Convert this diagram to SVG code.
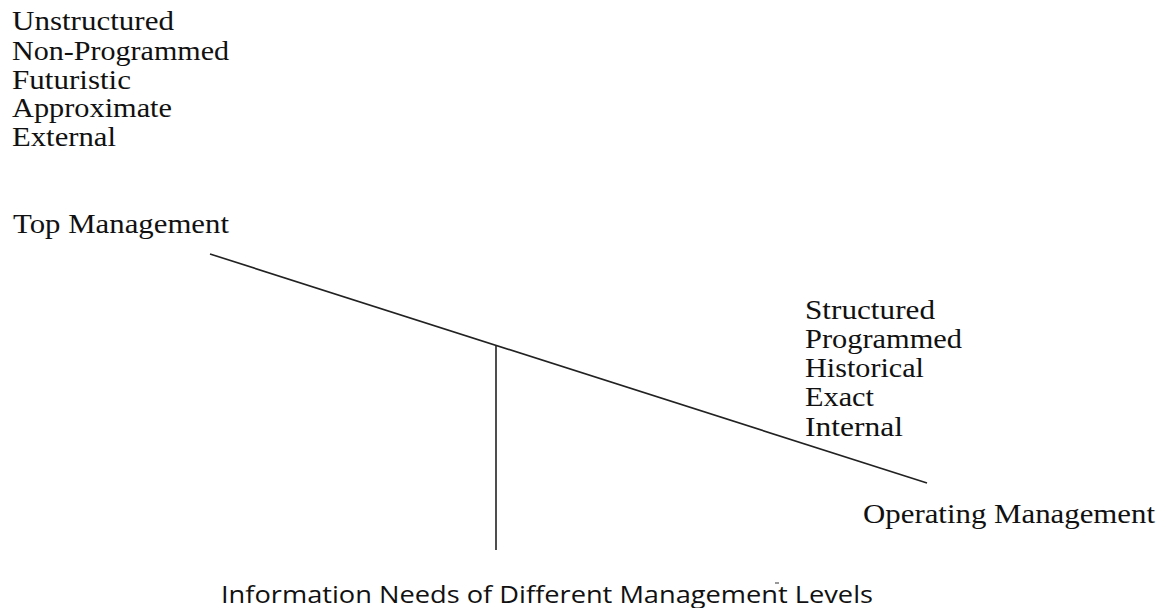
<svg xmlns="http://www.w3.org/2000/svg" width="1163" height="608" viewBox="0 0 1163 608">
<style>
.t{font-family:"Liberation Serif","Times New Roman",serif;font-size:27px;fill:#111}
.c{font-family:"Open Sans","Liberation Sans",Arial,sans-serif;font-size:23px;fill:#111}
.ln{stroke:#222;stroke-width:1.6;fill:none}
</style>
<rect width="1163" height="608" fill="#fff"/>
<g id="top-attributes">
<text class="t" x="12" y="30" textLength="162" lengthAdjust="spacingAndGlyphs">Unstructured</text>
<text class="t" x="12" y="60" textLength="217" lengthAdjust="spacingAndGlyphs">Non-Programmed</text>
<text class="t" x="12" y="89" textLength="119" lengthAdjust="spacingAndGlyphs">Futuristic</text>
<text class="t" x="12" y="117" textLength="160" lengthAdjust="spacingAndGlyphs">Approximate</text>
<text class="t" x="12" y="146" textLength="104" lengthAdjust="spacingAndGlyphs">External</text>
</g>
<g id="top-management">
<text class="t" x="13" y="233" textLength="216" lengthAdjust="spacingAndGlyphs">Top Management</text>
</g>
<g id="operating-attributes">
<text class="t" x="805" y="319" textLength="130" lengthAdjust="spacingAndGlyphs">Structured</text>
<text class="t" x="805" y="348" textLength="157" lengthAdjust="spacingAndGlyphs">Programmed</text>
<text class="t" x="805" y="377" textLength="119" lengthAdjust="spacingAndGlyphs">Historical</text>
<text class="t" x="805" y="406" textLength="69" lengthAdjust="spacingAndGlyphs">Exact</text>
<text class="t" x="805" y="436" textLength="98" lengthAdjust="spacingAndGlyphs">Internal</text>
</g>
<g id="operating-management">
<text class="t" x="863" y="523" textLength="292" lengthAdjust="spacingAndGlyphs">Operating Management</text>
</g>
<g id="caption">
<text class="c" x="221" y="603" textLength="652" lengthAdjust="spacingAndGlyphs">Information Needs of Different Management Levels</text>
<line x1="775" y1="583" x2="779" y2="583" stroke="#333" stroke-width="1"/>
</g>
<g id="connectors">
<line class="ln" x1="210" y1="254" x2="927" y2="483"/>
<line class="ln" x1="496" y1="346" x2="496" y2="550"/>
</g>
</svg>
